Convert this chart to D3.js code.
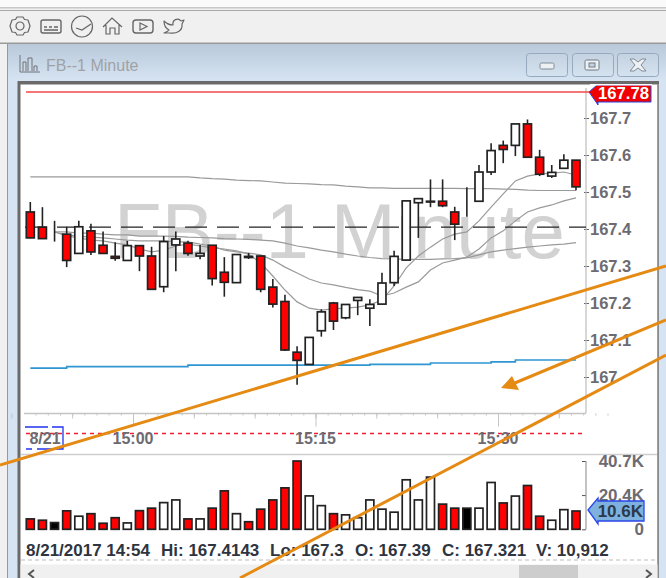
<!DOCTYPE html>
<html>
<head>
<meta charset="utf-8">
<script src="https://cdn.jsdelivr.net/npm/d3@7"></script>
<style>
  html, body { margin: 0; padding: 0; background: #fff; overflow: hidden; }
  svg { display: block; }
  text { font-family: "Liberation Sans", Arial, sans-serif; }
</style>
</head>
<body>
<div id="container"></div>
<script>
let w = 666;
let h = 578;

// prices are 167.xxx, one entry per minute bar
let opens = [167.446,167.405,167.386,167.386,167.334,167.395,167.356,167.326,167.315,167.355,167.327,167.244,167.357,167.362,167.327,167.356,167.283,167.255,167.326,167.327,167.243,167.204,167.067,167.034,167.125,167.200,167.160,167.207,167.186,167.197,167.255,167.316,167.471,167.473,167.475,167.446,167.446,167.475,167.554,167.626,167.626,167.684,167.594,167.543,167.564,167.586];
let closes = [167.376,167.374,167.386,167.315,167.406,167.338,167.334,167.321,167.355,167.327,167.237,167.366,167.373,167.334,167.334,167.266,167.256,167.331,167.323,167.237,167.197,167.073,167.045,167.107,167.176,167.151,167.196,167.215,167.196,167.254,167.326,167.476,167.482,167.475,167.463,167.413,167.446,167.554,167.612,167.615,167.684,167.594,167.548,167.553,167.586,167.514];
let highs = [167.473,167.459,167.422,167.406,167.422,167.414,167.393,167.364,167.368,167.355,167.352,167.381,167.393,167.368,167.357,167.357,167.324,167.332,167.335,167.328,167.265,167.222,167.083,167.107,167.183,167.203,167.196,167.216,167.210,167.282,167.341,167.476,167.482,167.534,167.534,167.460,167.513,167.573,167.632,167.639,167.684,167.696,167.614,167.573,167.602,167.586];
let lows = [167.375,167.373,167.366,167.297,167.334,167.330,167.334,167.314,167.315,167.286,167.237,167.229,167.286,167.328,167.318,167.247,167.217,167.255,167.319,167.229,167.188,167.070,166.979,167.034,167.109,167.127,167.156,167.167,167.138,167.197,167.246,167.316,167.376,167.459,167.459,167.370,167.433,167.475,167.546,167.578,167.597,167.594,167.543,167.538,167.564,167.505];
let volumes = [6.2,5.4,4,11,7.8,9.3,3.6,6.9,3.8,11.1,12.6,15.9,17.5,6.2,6.2,12.6,22.9,9.3,4.5,12,17.5,24.7,40.7,19.9,14.1,9.3,8.6,6.9,17.5,12,10.2,29.5,17.5,31.1,15,12.6,12.6,12.6,27.9,15.7,19.8,26.1,7.8,5.4,11.7,10.9];

// overlays
let maSlow = [167.541,167.541,167.541,167.541,167.541,167.541,167.541,167.541,167.541,167.541,167.541,167.541,167.541,167.541,167.538,167.536,167.535,167.532,167.531,167.530,167.527,167.524,167.523,167.522,167.520,167.519,167.516,167.514,167.511,167.511,167.510,167.510,167.510,167.510,167.510,167.510,167.509,167.509,167.509,167.508,167.507,167.505,167.504,167.504,167.504,167.504];
// these three start on the third bar
let ma3Start = 2;
let ma3 = [167.392,167.392,167.389,167.389,167.386,167.384,167.384,167.381,167.381,167.381,167.380,167.378,167.377,167.376,167.374,167.373,167.372,167.370,167.368,167.362,167.354,167.349,167.343,167.338,167.332,167.327,167.323,167.320,167.319,167.318,167.318,167.318,167.319,167.320,167.322,167.330,167.338,167.343,167.347,167.351,167.354,167.357,167.359,167.363];
let ma2 = [167.392,167.384,167.381,167.378,167.376,167.373,167.370,167.368,167.368,167.368,167.365,167.365,167.359,167.354,167.343,167.338,167.335,167.330,167.316,167.297,167.281,167.265,167.254,167.249,167.242,167.236,167.232,167.219,167.227,167.243,167.257,167.289,167.308,167.316,167.324,167.346,167.376,167.395,167.422,167.446,167.457,167.465,167.476,167.484];
let ma1 = [167.392,167.381,167.376,167.370,167.368,167.362,167.357,167.346,167.338,167.343,167.354,167.359,167.354,167.349,167.346,167.341,167.332,167.308,167.273,167.235,167.203,167.186,167.181,167.184,167.186,167.189,167.195,167.208,167.246,167.295,167.327,167.351,167.373,167.386,167.392,167.422,167.459,167.495,167.530,167.543,167.549,167.551,167.554,167.546];
let blueLine = [167.024,167.024,167.024,167.028,167.028,167.028,167.028,167.028,167.028,167.028,167.028,167.028,167.028,167.032,167.032,167.032,167.032,167.032,167.032,167.032,167.032,167.032,167.032,167.032,167.032,167.032,167.032,167.032,167.034,167.034,167.034,167.034,167.034,167.038,167.038,167.038,167.038,167.038,167.041,167.041,167.046,167.046,167.046,167.046,167.046,167.046];
let highLevel = 167.77;
let midLevel = 167.405;

let priceTicks = [167,167.1,167.2,167.3,167.4,167.5,167.6,167.7];
let volTicks = [0,20.4,40.7];
let volLabels = ["0","20.4K","40.7K"];
let timeLabels = ["15:00","15:15","15:30"];
let statusParts = ["8/21/2017 14:54","Hi: 167.4143","Lo: 167.3","O: 167.39","C: 167.321","V: 10,912"];
let statusX = [26,161,270,355,442,536];

let viz = d3.select("#container").append("svg").attr("width", w).attr("height", h);

let x = d3.scaleLinear().domain([0,45]).range([30.3,576]);
let y = d3.scaleLinear().domain([167,167.7]).range([377,118]);
let yVol = d3.scaleLinear().domain([0,40.7]).range([529.3,461]);
let xTime = d3.scaleTime()
  .domain([new Date(2017,7,21,15,0), new Date(2017,7,21,15,30)])
  .range([133,498]);

// window chrome
let defs = viz.append("defs");
let grad = defs.append("linearGradient").attr("id","titlebar").attr("x1",0).attr("x2",0).attr("y1",0).attr("y2",1);
grad.append("stop").attr("offset","0%").attr("stop-color","#b9c9da");
grad.append("stop").attr("offset","100%").attr("stop-color","#d7e5f3");
let btnGrad = defs.append("linearGradient").attr("id","btn").attr("x1",0).attr("x2",0).attr("y1",0).attr("y2",1);
btnGrad.append("stop").attr("offset","0%").attr("stop-color","#c4d2e1");
btnGrad.append("stop").attr("offset","100%").attr("stop-color","#d5e2ef");

viz.append("rect").attr("width",w).attr("height",h).attr("fill","#f0f0f0");
viz.append("rect").attr("width",w).attr("height",7).attr("fill","#fafafa");
viz.append("rect").attr("y",7).attr("width",w).attr("height",1.5).attr("fill","#c8c8c8");
viz.append("rect").attr("y",10).attr("width",w).attr("height",1).attr("fill","#a8a8a8");
viz.append("rect").attr("y",42.5).attr("width",w).attr("height",1.5).attr("fill","#9a9a9a");
viz.append("rect").attr("y",44).attr("width",7).attr("height",h-44).attr("fill","#f0f0f0");
viz.append("rect").attr("x",7).attr("y",44).attr("width",w-7).attr("height",h-44).attr("fill","#d5e3f2");
viz.append("rect").attr("x",7).attr("y",44).attr("width",w-7).attr("height",38).attr("fill","url(#titlebar)");
viz.append("rect").attr("x",7).attr("y",44).attr("width",1).attr("height",h-44).attr("fill","#8f9aa6");
viz.append("rect").attr("x",17.5).attr("y",81).attr("width",641.5).attr("height",h-81).attr("fill","#6a6a6a");
viz.append("rect").attr("x",20.5).attr("y",84.5).attr("width",637).attr("height",h-84.5).attr("fill","#fff");
viz.append("rect").attr("x",657.5).attr("y",84).attr("width",1.5).attr("height",h-84).attr("fill","#8a8a8a");

// toolbar icons
let icons = viz.append("g").attr("fill","none").attr("stroke","#666").attr("stroke-width",1.2);
let gear = icons.append("g").attr("transform","translate(20,26)");
gear.append("path").attr("d","M-3,-9 L3,-9 L4.5,-6.5 L8,-6 L10,0 L8,6 L4.5,6.5 L3,9 L-3,9 L-4.5,6.5 L-8,6 L-10,0 L-8,-6 L-4.5,-6.5 Z").attr("stroke-linejoin","round");
gear.append("circle").attr("r",4);
icons.append("rect").attr("x",41).attr("y",20).attr("width",20).attr("height",13).attr("rx",2).attr("stroke-width",1.4);
icons.append("path").attr("d","M44,27 h3 M49,27 h3 M54,27 h4 M44,30 h14").attr("stroke-width",1.3);
icons.append("circle").attr("cx",82).attr("cy",26.5).attr("r",10.5);
icons.append("path").attr("d","M76,28 L82,30 L91,24");
icons.append("path").attr("d","M103,27 L112,18 L122,27 M106,25 V34 H110 V28 H115 V34 H119 V25");
icons.append("rect").attr("x",133).attr("y",20).attr("width",20).attr("height",13).attr("rx",3).attr("stroke-width",1.4);
icons.append("path").attr("d","M140,23 L147,26.5 L140,30 Z");
icons.append("path").attr("d","M164,21 C167,24 170,25 173,25 C172,20 178,17 181,21 L184,20 L182,24 C183,31 176,34 170,33 L164,33 C167,32 168,31 169,30 C165,28 164,24 164,21 Z").attr("stroke-linejoin","round");

// title
let ti = viz.append("g").attr("fill","none").attr("stroke","#6f7378").attr("stroke-width",1);
ti.append("path").attr("d","M20,55 V72 H40");
ti.append("path").attr("d","M23,71 V62 H26 V71 M28,71 V58 H32 V71 M34,71 V66 H37 V71");
viz.append("text").attr("x",46).attr("y",71).attr("font-size",16).attr("fill","#9ea2a6").text("FB--1 Minute");

let btnX = [526,572,617];
viz.selectAll(".winbtn").data(btnX).enter().append("rect").attr("class","winbtn")
  .attr("x",d=>d+0.5).attr("y",53.5).attr("width",41).attr("height",23).attr("rx",3)
  .attr("fill","url(#btn)").attr("stroke","#97a9bf");
viz.append("rect").attr("x",540).attr("y",63).attr("width",14).attr("height",6).attr("rx",1.5).attr("fill","#eef1f4").attr("stroke","#7f8a96");
viz.append("rect").attr("x",585).attr("y",60).attr("width",14).attr("height",10).attr("rx",1.5).attr("fill","#eef1f4").attr("stroke","#6f7a86");
viz.append("rect").attr("x",589).attr("y",63).attr("width",6).attr("height",4).attr("fill","#c4d2e1").attr("stroke","#6f7a86");
viz.append("path").attr("d","M630,59 L634,59 L638,62 L642,59 L646,59 L641,65 L646,71 L642,71 L638,68 L634,71 L630,71 L635,65 Z").attr("fill","#eef1f4").attr("stroke","#7f8a96");

// watermark
viz.append("text").attr("x",114).attr("y",258).attr("font-size",78).attr("fill","#d2d2d2").text("FB--1 Minute");

// plot frame
viz.append("line").attr("x1",24).attr("x2",586).attr("y1",413.5).attr("y2",413.5).attr("stroke","#c4c4c4").attr("stroke-width",1.5);
viz.append("line").attr("x1",21).attr("x2",657).attr("y1",454.5).attr("y2",454.5).attr("stroke","#cfcfcf").attr("stroke-width",1.5);

// price axis
let yAxis = d3.axisRight(y).tickValues(priceTicks).tickFormat(d3.format("")).tickSize(3);
let yGroup = viz.append("g").attr("transform","translate(586,0)").call(yAxis);
yGroup.select(".domain").remove();
yGroup.append("line").attr("x1",0).attr("x2",0).attr("y1",88).attr("y2",413).attr("stroke","#bdbdbd").attr("stroke-width",1.2);
yGroup.selectAll(".tick line").attr("x1",-2).attr("x2",3).attr("stroke","#666");
yGroup.selectAll(".tick text").attr("x",4).attr("font-size",16.5).attr("font-weight","bold")
  .attr("font-family","Liberation Sans").attr("fill","#6d6b72");

// time axis
let minorMinutes = d3.timeMinute.range(new Date(2017,7,21,14,52), new Date(2017,7,21,15,40));
let timeAxisMinor = d3.axisBottom(xTime).tickValues(minorMinutes).tickFormat("").tickSize(2);
let tGroup = viz.append("g").attr("transform","translate(0,413.5)").call(timeAxisMinor);
tGroup.select(".domain").remove();
tGroup.selectAll(".tick line").attr("stroke","#c4c4c4");
let fiveMinutes = d3.timeMinute.every(5).range(new Date(2017,7,21,14,50), new Date(2017,7,21,15,40));
let tMajor = viz.append("g").attr("transform","translate(0,413.5)")
  .call(d3.axisBottom(xTime).tickValues(fiveMinutes).tickFormat("").tickSize(5));
tMajor.select(".domain").remove();
tMajor.selectAll(".tick line").attr("stroke","#c4c4c4");
let quarters = timeLabels.map(function(t){
  let p = t.split(":");
  return new Date(2017,7,21,+p[0],+p[1]);
});
let tQuarter = viz.append("g").attr("transform","translate(0,413.5)")
  .call(d3.axisBottom(xTime).tickValues(quarters).tickFormat("").tickSize(13));
tQuarter.select(".domain").remove();
tQuarter.selectAll(".tick line").attr("stroke","#c4c4c4");

// red dashed separator, time labels
viz.append("line").attr("x1",26).attr("x2",586).attr("y1",433.5).attr("y2",433.5)
  .attr("stroke","#f01f32").attr("stroke-width",1.5).attr("stroke-dasharray","4,4");
viz.selectAll(".timelabel").data(quarters).enter().append("text").attr("class","timelabel")
  .attr("x",d=>xTime(d)).attr("y",444).attr("text-anchor","middle").attr("font-size",16).attr("font-weight","bold")
  .attr("fill","#6d6b72").text(function(d,i){ return timeLabels[i]; });
viz.append("path").attr("d","M25,427 H48 M52,427 H63 V449 H37 M32,449 H26").attr("fill","none").attr("stroke","#2233ee").attr("stroke-width",1.3);
viz.append("text").attr("x",45).attr("y",444).attr("text-anchor","middle").attr("font-size",16).attr("font-weight","bold").attr("fill","#6d6b72").text("8/21");

// overlays under the candles
let maLine = d3.line().x(d=>x(d.i)).y(d=>y(d.v));
function toPoints(arr,start){
  return arr.map(function(v,i){ return {i:i+start, v:v}; });
}
let maList = [[maSlow,0,"#9a9a9a"],[ma3,ma3Start,"#9a9a9a"],[ma2,ma3Start,"#9a9a9a"],[ma1,ma3Start,"#9a9a9a"]];
maList.forEach(function(m){
  viz.append("path").attr("d",maLine(toPoints(m[0],m[1]))).attr("fill","none").attr("stroke",m[2]).attr("stroke-width",1.2);
});
viz.append("path").attr("d",d3.line().curve(d3.curveStepAfter).x(d=>x(d.i)).y(d=>y(d.v))(toPoints(blueLine,0)))
  .attr("fill","none").attr("stroke","#2f96d2").attr("stroke-width",1.6);

viz.append("line").attr("x1",25).attr("x2",586).attr("y1",y(midLevel)).attr("y2",y(midLevel))
  .attr("stroke","#222").attr("stroke-width",1.3).attr("stroke-dasharray","22,10");
viz.append("line").attr("x1",26).attr("x2",590).attr("y1",y(highLevel)).attr("y2",y(highLevel))
  .attr("stroke","#f24848").attr("stroke-width",1.5);

// candles
let bars = opens.map(function(o,i){
  return {i:i, o:o, c:closes[i], hi:highs[i], lo:lows[i], v:volumes[i]};
});
function barColor(d){
  if(d.c > d.o){ return "#fff"; }
  else if(d.c < d.o){ return "#ff0000"; }
  return "#000";
}
let barW = 8;
viz.selectAll(".wick").data(bars).enter().append("line").attr("class","wick")
  .attr("x1",d=>x(d.i)).attr("x2",d=>x(d.i)).attr("y1",d=>y(d.hi)).attr("y2",d=>y(d.lo))
  .attr("stroke","#222").attr("stroke-width",1.6);
viz.selectAll(".body").data(bars).enter().append("rect").attr("class","body")
  .attr("x",d=>x(d.i)-barW/2).attr("width",barW)
  .attr("y",d=>y(Math.max(d.o,d.c))).attr("height",d=>Math.abs(y(d.o)-y(d.c)))
  .attr("fill",barColor).attr("stroke","#222").attr("stroke-width",1.7);

// volume
viz.selectAll(".vol").data(bars).enter().append("rect").attr("class","vol")
  .attr("x",d=>x(d.i)-barW/2).attr("width",barW)
  .attr("y",d=>yVol(d.v)).attr("height",d=>yVol(0)-yVol(d.v))
  .attr("fill",barColor).attr("stroke","#222").attr("stroke-width",1.7);

let vAxis = d3.axisRight(yVol).tickValues(volTicks).tickFormat(function(d,i){ return volLabels[i]; }).tickSize(3);
let vGroup = viz.append("g").attr("transform","translate(586,0)").call(vAxis);
vGroup.select(".domain").remove();
vGroup.append("line").attr("x1",0).attr("x2",0).attr("y1",yVol(40.7)).attr("y2",yVol(0)).attr("stroke","#9a9a9a").attr("stroke-width",1.2);
vGroup.selectAll(".tick line").attr("x1",-4).attr("x2",0).attr("stroke","#555");
vGroup.selectAll(".tick text").attr("x",58).attr("text-anchor","end").attr("font-size",17).attr("font-weight","bold")
  .attr("font-family","Liberation Sans").attr("fill","#6d6b72").attr("dy","0.3em");

// current volume tag
viz.append("path").attr("d","M588,510 L598,498 V501 H644 V521 H598 V524 Z").attr("fill","#7eb1dd").attr("stroke","#2a45e8").attr("stroke-width",1.3);
viz.append("text").attr("x",643).attr("y",517).attr("text-anchor","end").attr("font-size",17).attr("font-weight","bold").attr("fill","#2b3a4a").text("10.6K");

// high price tag
viz.append("path").attr("d","M589,92 L597,85 H651 V102 H598 V105 L596,102 Z").attr("fill","#f00000").attr("stroke","#2a45e8").attr("stroke-width",1);
viz.append("rect").attr("x",590).attr("y",84).attr("width",62).attr("height",1.5).attr("fill","#fff");
viz.append("text").attr("x",598).attr("y",98.5).attr("font-size",16.7).attr("font-weight","bold").attr("fill","#fff").text("167.78");

// status line
viz.selectAll(".status").data(statusParts).enter().append("text").attr("class","status")
  .attr("x",function(d,i){ return statusX[i]; }).attr("y",556).attr("font-size",17).attr("font-weight","bold")
  .attr("fill","#2f3540").text(d=>d);
viz.append("line").attr("x1",21).attr("x2",657).attr("y1",560).attr("y2",560)
  .attr("stroke","#bbb").attr("stroke-width",1).attr("stroke-dasharray","4,3");

// scrollbar
viz.append("rect").attr("x",20.5).attr("y",564.5).attr("width",637).attr("height",14).attr("fill","#f0f0f0");
viz.append("rect").attr("x",519).attr("y",565).attr("width",59).attr("height",13).attr("fill","#cdcdcd");
viz.append("path").attr("d","M34,570 L29,574 L34,578 M646,570 L651,574 L646,578").attr("fill","none").attr("stroke","#555").attr("stroke-width",2);

// orange annotation lines, drawn over everything
let orange = "#e58a13";
let ann = viz.append("g").attr("stroke",orange).attr("stroke-width",3).attr("fill","none");
ann.append("line").attr("x1",0).attr("y1",465).attr("x2",666).attr("y2",266);
ann.append("line").attr("x1",666).attr("y1",320).attr("x2",510).attr("y2",385);
ann.append("line").attr("x1",240).attr("y1",578).attr("x2",666).attr("y2",355);
viz.append("path").attr("d","M501,388 L512,376 L519,390 Z").attr("fill",orange);
</script>
</body>
</html>
